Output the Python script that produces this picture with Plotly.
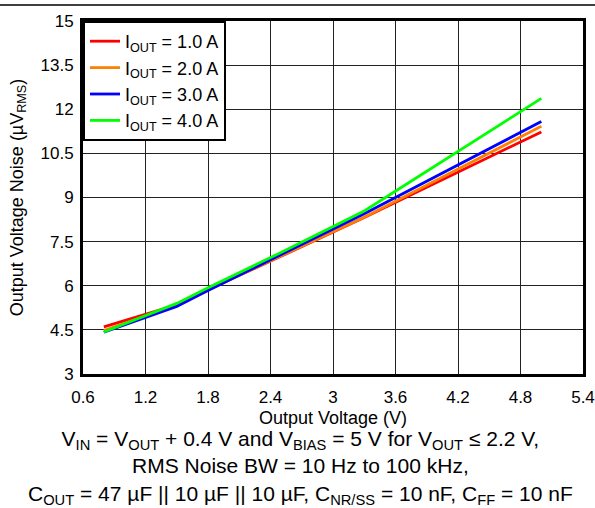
import plotly.graph_objects as go

vout = [0.8, 1.5, 1.8, 2.5, 3.3, 5.0]
noise_1a = [4.60, 5.35, 5.87, 7.00, 8.32, 11.23]
noise_2a = [4.48, 5.34, 5.86, 7.00, 8.33, 11.42]
noise_3a = [4.42, 5.30, 5.84, 7.05, 8.45, 11.58]
noise_4a = [4.43, 5.40, 5.93, 7.13, 8.54, 12.37]
series_names = ["I<sub>OUT</sub> = 1.0 A", "I<sub>OUT</sub> = 2.0 A",
                "I<sub>OUT</sub> = 3.0 A", "I<sub>OUT</sub> = 4.0 A"]
series_colors = ["#ff0000", "#ff7f00", "#0000ff", "#00ff00"]
x_ticks = [0.6, 1.2, 1.8, 2.4, 3, 3.6, 4.2, 4.8, 5.4]
y_ticks = [3, 4.5, 6, 7.5, 9, 10.5, 12, 13.5, 15]

FONT = "Liberation Sans, Arial, sans-serif"

fig = go.Figure()
for name, ys, col in zip(series_names, [noise_1a, noise_2a, noise_3a, noise_4a], series_colors):
    fig.add_trace(go.Scatter(x=vout, y=ys, mode="lines", name=name,
                             line=dict(color=col, width=2.8)))

axis_common = dict(showgrid=True, gridcolor="#222222", gridwidth=1,
                   showline=True, linecolor="black", linewidth=3, mirror=True,
                   zeroline=False, ticks="", automargin=False,
                   tickfont=dict(size=17, color="black", family=FONT))

fig.update_xaxes(range=[0.6, 5.4], tickvals=x_ticks, ticklabelstandoff=6,
                 title=dict(text="Output Voltage (V)", font=dict(size=18, color="black", family=FONT), standoff=5),
                 **axis_common)
fig.update_yaxes(range=[3, 15], tickvals=y_ticks, ticklabelstandoff=3,
                 title=dict(text="Output Voltage Noise (µV<sub>RMS</sub>)", font=dict(size=18, color="black", family=FONT), standoff=13),
                 **axis_common)

fig.update_layout(
    width=595, height=508,
    margin=dict(l=83, r=12, t=21, b=134),
    plot_bgcolor="white", paper_bgcolor="white",
    font=dict(family=FONT, color="black", size=16),
    legend=dict(x=0, y=1, xanchor="left", yanchor="top",
                bgcolor="white", bordercolor="black", borderwidth=2,
                font=dict(size=18, color="black", family=FONT)),
    showlegend=True,
)

fig.add_annotation(
    text=("V<sub>IN</sub> = V<sub>OUT</sub> + 0.4 V and V<sub>BIAS</sub> = 5 V for V<sub>OUT</sub> ≤ 2.2 V,<br>"
          "RMS Noise BW = 10 Hz to 100 kHz,<br>"
          "C<sub>OUT</sub> = 47 µF || 10 µF || 10 µF, C<sub>NR/SS</sub> = 10 nF, C<sub>FF</sub> = 10 nF"),
    xref="paper", yref="paper", x=0.434, y=-0.145, xanchor="center", yanchor="top",
    showarrow=False, align="center", font=dict(size=21, color="black", family=FONT))

fig.add_shape(type="line", xref="paper", yref="paper",
              x0=-0.166, x1=1.024, y0=1.045, y1=1.045,
              line=dict(color="black", width=1.5))

fig.write_html("out.html", config={"displayModeBar": False},
               post_script="document.body.style.margin='0px';document.body.style.padding='0px';")
